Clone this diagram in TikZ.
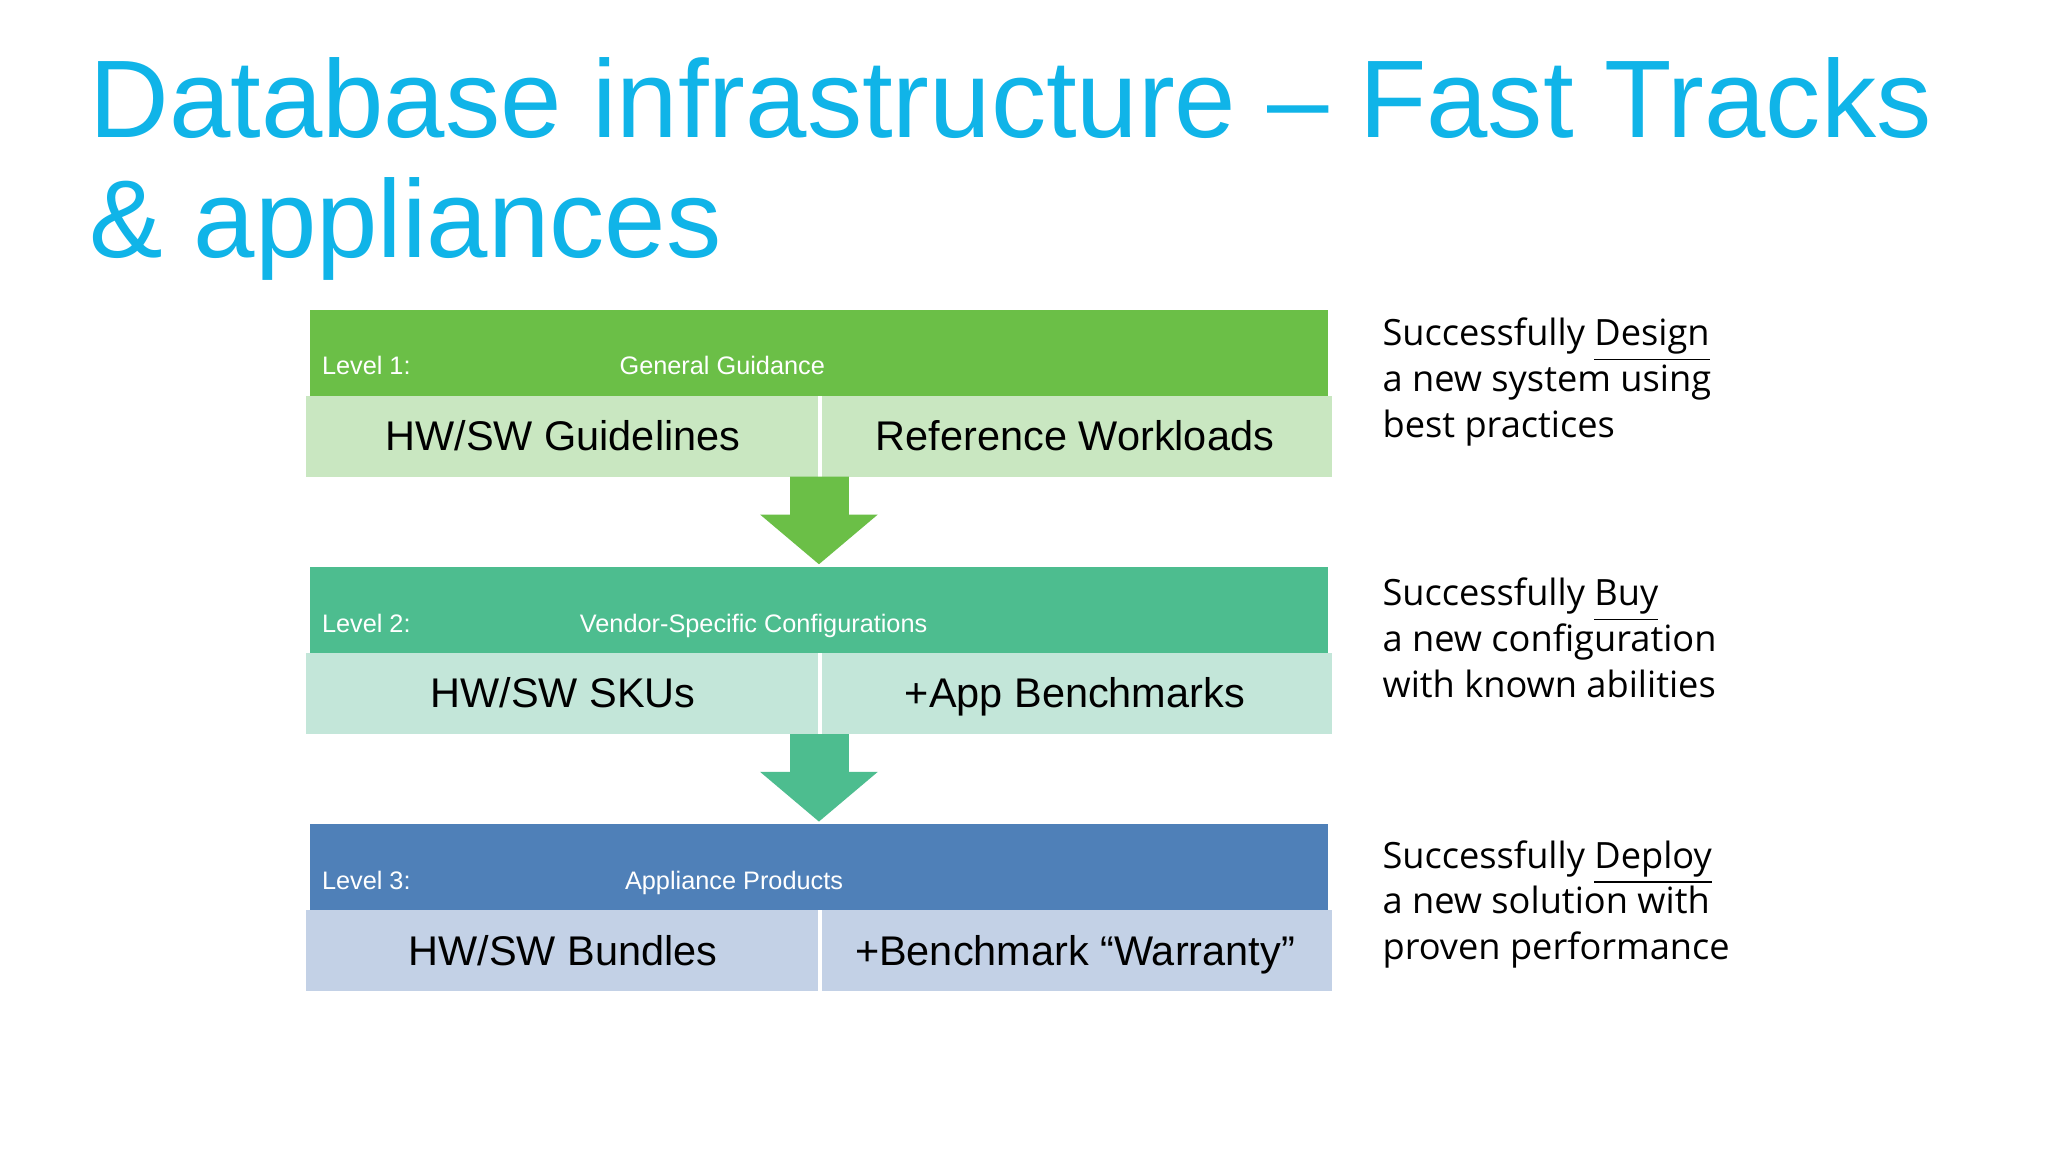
\documentclass[tikz,border=0pt]{standalone}
\usepackage{fontspec}
\setmainfont{Liberation Sans}
\newfontfamily\sidefont{Open Sans}
\begin{document}
\begin{tikzpicture}[x=0.013061cm,y=-0.013061cm,
  lvl/.style={text=white,font=\fontsize{7.2}{8}\selectfont,anchor=base,inner sep=0},
  cell/.style={font=\fontsize{11.8}{14}\selectfont,anchor=base,inner sep=0},
  side/.style={font=\sidefont\fontsize{10.3}{13}\selectfont,anchor=north west,align=left,inner sep=0}]
\definecolor{title}{HTML}{10B4E8}
\definecolor{gA}{HTML}{6BBF47}\definecolor{gAl}{HTML}{C9E7C1}
\definecolor{gB}{HTML}{4DBD8F}\definecolor{gBl}{HTML}{C3E6D9}
\definecolor{gC}{HTML}{4F80B8}\definecolor{gCl}{HTML}{C3D1E6}
\useasboundingbox (0,0) rectangle (1568,882);
\fill[white] (0,0) rectangle (1568,882);
\node[anchor=base west,inner sep=0,text=title,font=\fontsize{31.4}{34}\selectfont] (t1) at (68,105) {Database infrastructure -- Fast Tracks};
\node[anchor=base west,inner sep=0,text=title,font=\fontsize{31.4}{34}\selectfont] (t2) at (68,197) {\& appliances};
% levels: top y, band colour, light colour, label, title, title x, left cell, right cell
\foreach \y/\c/\l/\n/\ttl/\tx/\la/\ra in {237/gA/gAl/1/General Guidance/553/{HW/SW Guidelines}/Reference Workloads,
                                         434/gB/gBl/2/Vendor-Specific Configurations/577/{HW/SW SKUs}/+App Benchmarks,
                                         631/gC/gCl/3/Appliance Products/562/{HW/SW Bundles}/+Benchmark “Warranty”}{
  \fill[\c] (237,\y) rectangle (1017,\y+66);
  \fill[\l] (234,\y+66) rectangle (626,\y+128);
  \fill[\l] (629,\y+66) rectangle (1020,\y+128);
  \node[lvl,anchor=base west] (lv\n) at (246,\y+50) {Level \n:};
  \node[lvl] (tt\n) at (\tx,\y+50) {\ttl};
  \node[cell] (la\n) at (431,\y+108) {\la};
  \node[cell] (ra\n) at (823,\y+108) {\ra};
}
\fill[gA] (605,365) -- (650,365) -- (650,394) -- (672,394) -- (627,432) -- (582,394) -- (605,394) -- cycle;
\fill[gB] (605,562) -- (650,562) -- (650,591) -- (672,591) -- (627,629) -- (582,591) -- (605,591) -- cycle;
\node[side] (s1) at (1058,243) {Successfully \underline{Design}\\a new system using\\best practices};
\node[side] (s2) at (1058,442) {Successfully \underline{Buy}\\a new configuration\\with known abilities};
\node[side] (s3) at (1058,643) {Successfully \underline{Deploy}\\a new solution with\\proven performance};
\end{tikzpicture}
\end{document}
